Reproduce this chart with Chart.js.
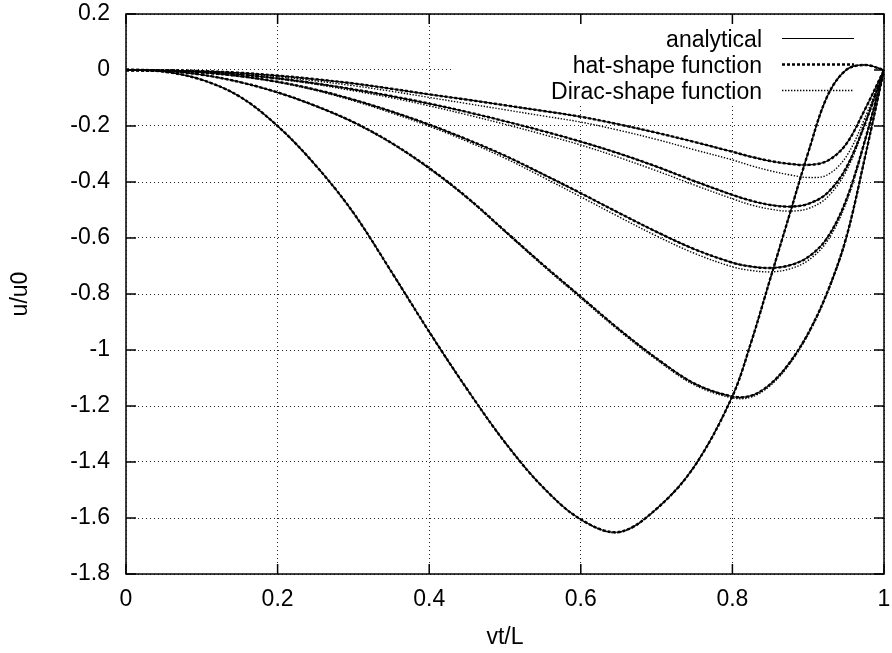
<!DOCTYPE html>
<html>
<head>
<meta charset="utf-8">
<script src="https://cdn.jsdelivr.net/npm/chart.js@4"></script>
<style>
  html, body { margin: 0; padding: 0; background: #fff; }
  #wrap { width: 892px; height: 653px; }
</style>
</head>
<body>
<div id="wrap"><canvas id="c" width="892" height="653"></canvas></div>
<script>
// ---- data ----
const vt = [0, 0.05, 0.1, 0.15, 0.2, 0.25, 0.3, 0.35, 0.4, 0.45, 0.5, 0.55, 0.6, 0.65, 0.7, 0.75, 0.8, 0.825, 0.85, 0.875, 0.9, 0.925, 0.95, 0.975, 1];

// analytical solutions (five cases)
const anaA = [0, -0.006, -0.035, -0.095, -0.2, -0.34, -0.51, -0.72, -0.935, -1.14, -1.33, -1.49, -1.605, -1.65, -1.567, -1.415, -1.165, -0.97, -0.745, -0.52, -0.295, -0.095, 0.0, 0.018, 0];
const anaB = [0, -0.003, -0.017, -0.043, -0.08, -0.128, -0.186, -0.26, -0.35, -0.455, -0.575, -0.695, -0.81, -0.925, -1.03, -1.12, -1.166, -1.163, -1.122, -1.047, -0.94, -0.795, -0.6, -0.31, 0];
const anaC = [0, -0.002, -0.009, -0.022, -0.042, -0.07, -0.106, -0.148, -0.195, -0.248, -0.306, -0.372, -0.44, -0.51, -0.578, -0.64, -0.688, -0.702, -0.707, -0.698, -0.668, -0.6, -0.465, -0.25, 0];
const anaD = [0, -0.001, -0.006, -0.016, -0.03, -0.048, -0.069, -0.093, -0.12, -0.15, -0.183, -0.218, -0.256, -0.298, -0.345, -0.397, -0.446, -0.467, -0.482, -0.488, -0.478, -0.44, -0.35, -0.19, 0];
const anaE = [0, -0.001, -0.004, -0.01, -0.02, -0.033, -0.048, -0.067, -0.087, -0.106, -0.126, -0.146, -0.167, -0.194, -0.224, -0.257, -0.292, -0.31, -0.325, -0.335, -0.339, -0.325, -0.265, -0.14, 0];

// hat-shape function results (coincide with analytical at this resolution)
const hatA = [0, -0.006, -0.035, -0.095, -0.2, -0.34, -0.51, -0.72, -0.935, -1.14, -1.33, -1.49, -1.605, -1.65, -1.567, -1.415, -1.165, -0.97, -0.745, -0.52, -0.295, -0.095, 0.0, 0.018, 0];
const hatB = [0, -0.003, -0.017, -0.043, -0.08, -0.128, -0.186, -0.26, -0.35, -0.455, -0.575, -0.695, -0.81, -0.925, -1.03, -1.12, -1.166, -1.163, -1.122, -1.047, -0.94, -0.795, -0.6, -0.31, 0];
const hatC = [0, -0.002, -0.009, -0.022, -0.042, -0.07, -0.106, -0.148, -0.195, -0.248, -0.306, -0.372, -0.44, -0.51, -0.578, -0.64, -0.688, -0.702, -0.707, -0.698, -0.668, -0.6, -0.465, -0.25, 0];
const hatD = [0, -0.001, -0.006, -0.016, -0.03, -0.048, -0.069, -0.093, -0.12, -0.15, -0.183, -0.218, -0.256, -0.298, -0.345, -0.397, -0.446, -0.467, -0.482, -0.488, -0.478, -0.44, -0.35, -0.19, 0];
const hatE = [0, -0.001, -0.004, -0.01, -0.02, -0.033, -0.048, -0.067, -0.087, -0.106, -0.126, -0.146, -0.167, -0.194, -0.224, -0.257, -0.292, -0.31, -0.325, -0.335, -0.339, -0.325, -0.265, -0.14, 0];

// Dirac-shape function results
const dirA = [0, -0.006, -0.035, -0.095, -0.2, -0.34, -0.51, -0.72, -0.935, -1.14, -1.33, -1.49, -1.606, -1.652, -1.568, -1.415, -1.165, -0.97, -0.745, -0.52, -0.295, -0.095, 0.0, 0.018, 0];
const dirB = [0, -0.003, -0.017, -0.043, -0.081, -0.129, -0.188, -0.262, -0.353, -0.458, -0.578, -0.699, -0.815, -0.93, -1.035, -1.125, -1.171, -1.168, -1.127, -1.052, -0.945, -0.8, -0.605, -0.312, 0];
const dirC = [0, -0.002, -0.009, -0.023, -0.044, -0.073, -0.11, -0.153, -0.201, -0.255, -0.315, -0.383, -0.453, -0.524, -0.593, -0.655, -0.703, -0.716, -0.721, -0.711, -0.68, -0.612, -0.475, -0.255, 0];
const dirD = [0, -0.001, -0.006, -0.017, -0.032, -0.051, -0.074, -0.099, -0.128, -0.16, -0.194, -0.23, -0.268, -0.312, -0.36, -0.411, -0.46, -0.482, -0.497, -0.504, -0.495, -0.455, -0.362, -0.196, 0];
const dirE = [0, -0.001, -0.005, -0.012, -0.024, -0.039, -0.056, -0.076, -0.098, -0.12, -0.142, -0.164, -0.186, -0.215, -0.248, -0.285, -0.321, -0.342, -0.36, -0.374, -0.384, -0.375, -0.31, -0.17, 0];

const legendLabels = ['analytical', 'hat-shape function', 'Dirac-shape function'];
const xTicks = [0, 0.2, 0.4, 0.6, 0.8, 1];
const xTickLabels = ['0', '0.2', '0.4', '0.6', '0.8', '1'];
const yTicks = [-1.8, -1.6, -1.4, -1.2, -1, -0.8, -0.6, -0.4, -0.2, 0, 0.2];
const yTickLabels = ['-1.8', '-1.6', '-1.4', '-1.2', '-1', '-0.8', '-0.6', '-0.4', '-0.2', '0', '0.2'];
const xTitle = 'vt/L';
const yTitle = 'u/u0';

// ---- styles ----
const FONT = { family: '"Liberation Sans", Arial, sans-serif', size: 23 };
const styles = [
  { borderWidth: 1.2, borderDash: [] },          // analytical
  { borderWidth: 2.4, borderDash: [3, 2] },      // hat-shape
  { borderWidth: 1.4, borderDash: [1.4, 1.6] }   // Dirac-shape
];

const pts = ys => vt.map((v, i) => ({ x: v, y: ys[i] }));
const groups = [
  [anaA, anaB, anaC, anaD, anaE],
  [hatA, hatB, hatC, hatD, hatE],
  [dirA, dirB, dirC, dirD, dirE]
];
const datasets = [];
groups.forEach((g, k) => {
  g.forEach(arr => {
    datasets.push({
      label: legendLabels[k],
      data: pts(arr),
      borderColor: '#000',
      backgroundColor: '#000',
      borderWidth: styles[k].borderWidth,
      borderDash: styles[k].borderDash,
      pointRadius: 0,
      fill: false,
      tension: 0.35
    });
  });
});

// ---- plugin: key area clearing, key, frame with inward ticks ----
const gnuFrame = {
  id: 'gnuFrame',
  beforeDatasetsDraw(chart) {
    const { ctx, chartArea: a } = chart;
    ctx.save();
    ctx.fillStyle = '#fff';
    ctx.fillRect(452, a.top + 1, a.right - 1 - 452, 103 - a.top);
    ctx.restore();
  },
  afterDatasetsDraw(chart) {
    const { ctx, chartArea: a, scales: { x, y } } = chart;
    ctx.save();
    // key
    ctx.font = FONT.size + 'px ' + FONT.family;
    ctx.fillStyle = '#000';
    ctx.textAlign = 'right';
    ctx.textBaseline = 'alphabetic';
    const base = [46.5, 72.5, 98.5];
    legendLabels.forEach((t, k) => {
      ctx.fillText(t, 762, base[k]);
      ctx.beginPath();
      ctx.lineWidth = styles[k].borderWidth;
      ctx.setLineDash(styles[k].borderDash);
      ctx.strokeStyle = '#000';
      const yy = base[k] - 8;
      ctx.moveTo(782, yy);
      ctx.lineTo(854, yy);
      ctx.stroke();
    });
    ctx.setLineDash([]);
    // frame
    ctx.lineWidth = 1.5;
    ctx.strokeStyle = '#000';
    ctx.strokeRect(a.left, a.top, a.right - a.left, a.bottom - a.top);
    // inward ticks (mirrored)
    const tl = 10;
    ctx.beginPath();
    xTicks.forEach(v => {
      const px = x.getPixelForValue(v);
      ctx.moveTo(px, a.bottom); ctx.lineTo(px, a.bottom - tl);
      ctx.moveTo(px, a.top); ctx.lineTo(px, a.top + tl);
    });
    yTicks.forEach(v => {
      const py = y.getPixelForValue(v);
      ctx.moveTo(a.left, py); ctx.lineTo(a.left + tl, py);
      ctx.moveTo(a.right, py); ctx.lineTo(a.right - tl, py);
    });
    ctx.stroke();
    ctx.restore();
  }
};

function noOverflow(s) {
  s.paddingTop = 0; s.paddingBottom = 0; s.paddingLeft = 0; s.paddingRight = 0;
}

new Chart(document.getElementById('c'), {
  type: 'line',
  data: { datasets },
  plugins: [gnuFrame],
  options: {
    responsive: false,
    animation: false,
    devicePixelRatio: 1,
    layout: { padding: { top: 14, right: 8, left: 0, bottom: 0 } },
    plugins: { legend: { display: false }, tooltip: { enabled: false } },
    elements: { point: { radius: 0 } },
    scales: {
      x: {
        type: 'linear', min: 0, max: 1,
        afterFit(s) { s.height = 79; noOverflow(s); },
        afterBuildTicks(s) { s.ticks = xTicks.map(v => ({ value: v })); },
        ticks: { callback: (v, i) => xTickLabels[i], font: FONT, color: '#000', padding: 12, maxRotation: 0, autoSkip: false },
        grid: { color: '#222', lineWidth: 1, drawTicks: false },
        border: { display: false, dash: [1, 3] },
        title: { display: true, text: xTitle, font: FONT, color: '#000', padding: { top: 0, bottom: 2 } }
      },
      y: {
        type: 'linear', min: -1.8, max: 0.2,
        afterFit(s) { s.width = 126; noOverflow(s); },
        afterBuildTicks(s) { s.ticks = yTicks.map(v => ({ value: v })); },
        ticks: { callback: (v, i) => yTickLabels[i], font: FONT, color: '#000', padding: 16, autoSkip: false },
        grid: { color: '#222', lineWidth: 1, drawTicks: false },
        border: { display: false, dash: [1, 3] },
        title: { display: true, text: yTitle, font: FONT, color: '#000', padding: { top: 7, bottom: 0 } }
      }
    }
  }
});
</script>
</body>
</html>
